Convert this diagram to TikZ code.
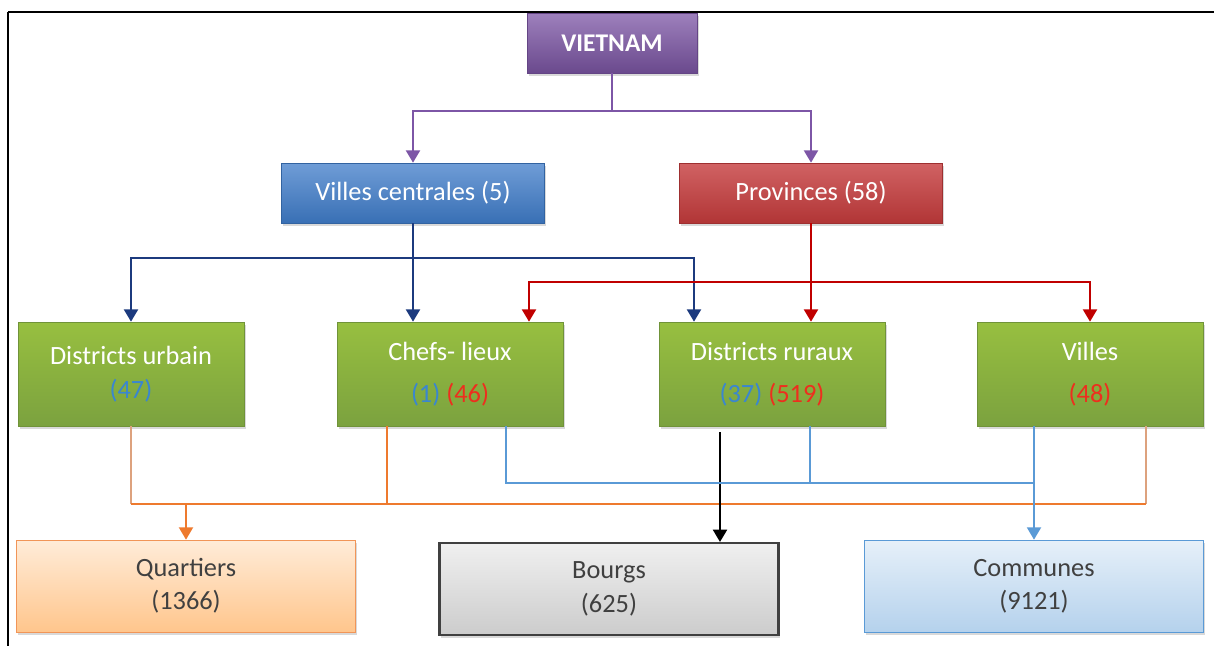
\documentclass[tikz,border=0pt]{standalone}
\usepackage{fontspec}
\setmainfont{Carlito}
\usetikzlibrary{arrows.meta,calc,shadows}

\definecolor{purplebox}{HTML}{7D56A6}
\definecolor{bluebox}{HTML}{3F7CC9}
\definecolor{redbox}{HTML}{C53B3C}
\definecolor{greenbox}{HTML}{8CB847}
\definecolor{navyline}{HTML}{1C3A7E}
\definecolor{redline}{HTML}{C00000}
\definecolor{orangeline}{HTML}{EE7A2E}
\definecolor{tanline}{HTML}{DDA27E}
\definecolor{blueline}{HTML}{5A9AD6}
\definecolor{numblue}{HTML}{3A86D0}
\definecolor{numred}{HTML}{EE2E1E}
\definecolor{graytext}{HTML}{404040}

\begin{document}
\begin{tikzpicture}[x=0.02cm,y=-0.02cm,
  shade/.style={drop shadow={shadow xshift=1pt,shadow yshift=-1.5pt,opacity=0.3}},
  headbox/.style={rectangle, shade, text=white, align=center, minimum height=1.2cm,
    font=\fontsize{15}{18}\selectfont},
  greenbox/.style={rectangle, shade, draw=greenbox!80!black, top color=greenbox!90!yellow,
    bottom color=greenbox!88!black, text=white, align=center,
    minimum width=4.52cm, minimum height=2.08cm, font=\fontsize{15}{18}\selectfont},
  lowbox/.style={rectangle, shade, text=graytext, align=center, minimum width=6.78cm,
    minimum height=1.84cm, font=\fontsize{15}{18}\selectfont},
  tip/.style={-{Triangle[length=7pt,width=8pt]}}
]
\useasboundingbox (0,0) rectangle (1214,646);
\draw[line width=1.2pt] (8,12) -- (1214,12);
\draw[line width=1.2pt] (8,12) -- (8,646);

% top levels
\node [headbox, minimum width=3.4cm, draw=purplebox!80!black, top color=purplebox!75!white,
  bottom color=purplebox!85!black, font=\fontsize{14.5}{17}\selectfont\bfseries] (vn) at (612,43) {VIETNAM};
\node [headbox, minimum width=5.26cm, draw=bluebox!80!black, top color=bluebox!75!white,
  bottom color=bluebox!90!black] (vc) at (413,193) {Villes centrales (5)};
\node [headbox, minimum width=5.26cm, draw=redbox!80!black, top color=redbox!80!white,
  bottom color=redbox!90!black] (pr) at (811,193) {Provinces (58)};

% districts
\node [greenbox] (du) at (131,374) {Districts urbain\\[1pt]\textcolor{numblue}{(47)}};
\node [greenbox] (cl) at (450,374) {Chefs- lieux\\[6pt]\textcolor{numblue}{(1)} \textcolor{numred}{(46)}};
\node [greenbox] (dr) at (772,374) {Districts ruraux\\[6pt]\textcolor{numblue}{(37)} \textcolor{numred}{(519)}};
\node [greenbox] (vi) at (1090,374) {Villes\\[6pt]\textcolor{numred}{(48)}};

% communes level
\node [lowbox, draw=orangeline!80!white, top color=orange!15!white, bottom color=orange!45!white] (qu) at (186,586) {Quartiers\\[1pt](1366)};
\node [lowbox, draw=graytext, line width=1.2pt, top color=gray!12, bottom color=gray!40] (bo) at (609,589) {Bourgs\\[1pt](625)};
\node [lowbox, draw=blueline, top color=blueline!15!white, bottom color=blueline!45!white] (co) at (1034,586) {Communes\\[1pt](9121)};

% vietnam
\draw[tip, purplebox, line width=1.1pt] (vn.south) -- (612,111) -| (vc.north);
\draw[tip, purplebox, line width=1.1pt] (vn.south) -- (612,111) -| (pr.north);

% villes centrales
\draw[tip, navyline, line width=1.1pt] (vc.south) -- (vc.south |- cl.north);
\draw[tip, navyline, line width=1.1pt] (vc.south |- 0,258) -| (du.north);
\draw[tip, navyline, line width=1.1pt] (vc.south |- 0,258) -| ($(dr.north)+(-78,0)$);

% provinces
\draw[tip, redline, line width=1.1pt] (pr.south) -- (pr.south |- dr.north);
\draw[tip, redline, line width=1.1pt] (pr.south |- 0,282) -| ($(cl.north)+(79,0)$);
\draw[tip, redline, line width=1.1pt] (pr.south |- 0,282) -| (vi.north);

% quartiers
\coordinate (qa) at ($(cl.south)+(-63,0)$);
\coordinate (qb) at ($(vi.south)+(56,0)$);
\draw[tanline, line width=1pt] (du.south) -- (du.south |- 0,504);
\draw[tanline, line width=1pt] (qb) -- (qb |- 0,504);
\draw[orangeline, line width=1pt] (qa) -- (qa |- 0,504);
\draw[orangeline, line width=1pt] (du.south |- 0,504) -- (qb |- 0,504);
\draw[tip, orangeline, line width=1pt] (qu.north |- 0,504) -- (qu.north);

% bourgs
\coordinate (ba) at ($(dr.south)+(-52,6)$);
\draw[tip, black, line width=1.1pt] (ba) -- (ba |- bo.north);

% communes
\coordinate (ca) at ($(cl.south)+(56,0)$);
\coordinate (cb) at ($(dr.south)+(38,0)$);
\draw[blueline, line width=1pt] (ca) |- (co.north |- 0,483);
\draw[blueline, line width=1pt] (cb) -- (cb |- 0,483);
\draw[tip, blueline, line width=1pt] ($(vi.south)+(-56,0)$) -- (co.north);
\end{tikzpicture}
\end{document}
